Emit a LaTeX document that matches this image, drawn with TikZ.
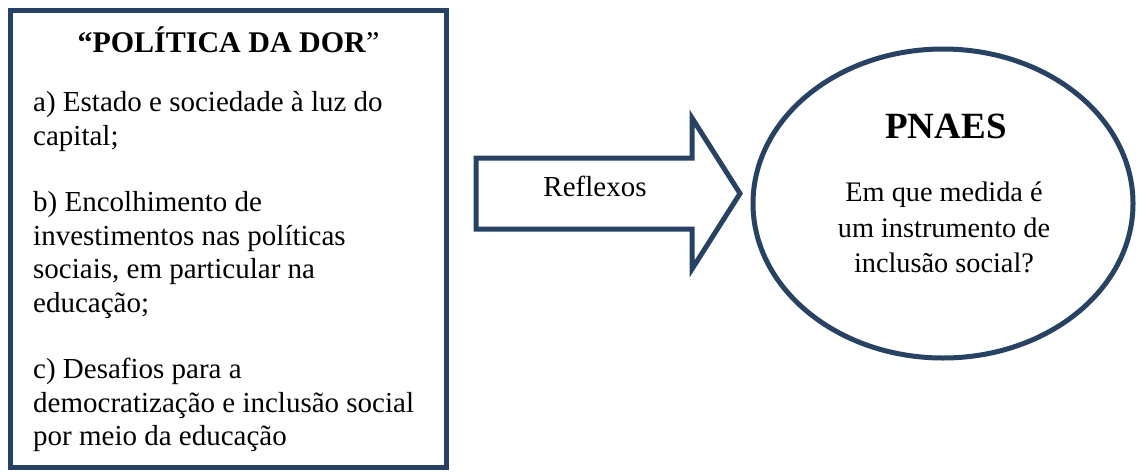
\documentclass[tikz,border=0pt]{standalone}
\usepackage{fontspec}
\setmainfont{Liberation Serif}
\usetikzlibrary{shapes.geometric}
\definecolor{navy}{RGB}{39,66,98}
\tikzset{
  outline/.style={draw=navy, line width=5pt, line join=miter},
  bodytext/.style={inner sep=0pt, anchor=base, font=\fontsize{29}{33.4}\selectfont},
}
\begin{document}
\begin{tikzpicture}[x=1pt, y=-1pt]
\useasboundingbox (0,0) rectangle (1137,471);
% left panel
\node[outline, rectangle, minimum width=435.5pt, minimum height=456.5pt, inner sep=0pt] (panel) at (228.25,238.75) {};
\node[inner sep=0pt, anchor=base, font=\fontsize{30}{34}\selectfont] (paneltitle) at (228.5,52.5) {\textbf{“POLÍTICA DA DOR}”};
\node[bodytext, anchor=base west] (panellist) at (33,111.7) {\parbox[t]{410pt}{\fontsize{29}{33.4}\selectfont\raggedright
a) Estado e sociedade à luz do\\
capital;\\[33.4pt]
b) Encolhimento de\\
investimentos nas políticas\\
sociais, em particular na\\
educação;\\[33.4pt]
c) Desafios para a\\
democratização e inclusão social\\
por meio da educação}};
% block arrow
\draw[outline] (476,158) -- (692,158) -- (692,118) -- (740,193.5) -- (692,269) -- (692,229) -- (476,229) -- cycle;
\node[bodytext] (reflexos) at (595,196.7) {Reflexos};
% ellipse
\node[outline, ellipse, minimum width=380pt, minimum height=309pt, inner sep=0pt] (pnaes) at (943,203.5) {};
\node[inner sep=0pt, anchor=base, font=\fontsize{37}{40}\selectfont\bfseries] (pnaestitle) at (946,138.3) {PNAES};
\node[bodytext, anchor=base] (question) at (944,201.7) {\parbox[t]{300pt}{\centering\fontsize{28.3}{35.3}\selectfont
Em que medida é\\
um instrumento de\\
inclusão social?}};
\end{tikzpicture}
\end{document}
